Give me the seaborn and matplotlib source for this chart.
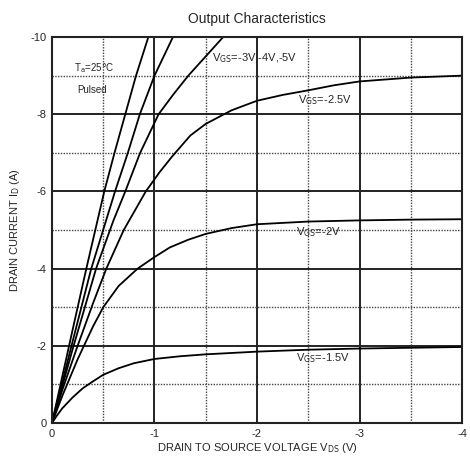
import numpy as np
import pandas as pd
import seaborn as sns
import matplotlib.pyplot as plt

# curves (V_DS in V, I_D in A, both negative)
vds_5 = [0, -0.1, -0.2, -0.335, -0.51, -0.61, -0.715, -0.82, -0.94]
id_5 = [0, -1.2, -2.4, -4, -6, -7, -8, -9, -10]

vds_4 = [0, -0.1, -0.2, -0.383, -0.615, -0.74, -0.857, -1.0, -1.18]
id_4 = [0, -1.05, -2.1, -4, -6, -7, -8, -9, -10]

vds_3 = [0, -0.2, -0.43, -0.6, -0.715, -0.86, -1.04, -1.18, -1.33, -1.5, -1.67]
id_3 = [0, -1.9, -4, -5.25, -6, -7, -8, -8.5, -9, -9.5, -10]

vds_25 = [0, -0.1, -0.25, -0.4, -0.53, -0.7, -0.915, -1.05, -1.17, -1.35, -1.5,
          -1.75, -2.0, -2.25, -2.5, -2.75, -3.0, -3.5, -4.0]
id_25 = [0, -0.85, -2.0, -3.1, -4, -5.0, -6, -6.5, -6.9, -7.45, -7.75,
         -8.1, -8.35, -8.5, -8.62, -8.75, -8.85, -8.95, -9.0]

vds_2 = [0, -0.1, -0.25, -0.4, -0.5, -0.65, -0.835, -1.0, -1.15, -1.33, -1.5,
         -1.75, -2.0, -2.5, -3.0, -3.5, -4.0]
id_2 = [0, -0.7, -1.65, -2.5, -3.0, -3.55, -4.0, -4.3, -4.55, -4.75, -4.9,
        -5.05, -5.15, -5.22, -5.25, -5.27, -5.28]

vds_15 = [0, -0.05, -0.1, -0.2, -0.3, -0.4, -0.5, -0.65, -0.8, -1.0, -1.25,
          -1.5, -2.0, -2.5, -3.0, -3.5, -4.0]
id_15 = [0, -0.2, -0.38, -0.66, -0.9, -1.08, -1.25, -1.42, -1.55, -1.66, -1.73,
         -1.78, -1.85, -1.9, -1.93, -1.95, -1.97]

x_ticks = [0, -1, -2, -3, -4]
y_ticks = [0, -2, -4, -6, -8, -10]

frames = []
for name, vx, iy in [('-5', vds_5, id_5), ('-4', vds_4, id_4), ('-3', vds_3, id_3),
                     ('-2.5', vds_25, id_25), ('-2', vds_2, id_2), ('-1.5', vds_15, id_15)]:
    frames.append(pd.DataFrame({'vds': vx, 'id': iy, 'vgs': name}))
df = pd.concat(frames, ignore_index=True)

sns.set_style('white')
plt.rcParams['font.family'] = ['Liberation Sans', 'DejaVu Sans']

fig = plt.figure(figsize=(4.7, 4.69), dpi=100)
ax = fig.add_axes([0.1106, 0.098, 0.8724, 0.823])

sns.lineplot(data=df, x='vds', y='id', hue='vgs', units='vgs', estimator=None,
             sort=False, palette=['black'] * 6, legend=False, linewidth=1.3, ax=ax)

ax.set_xlim(0, -4)
ax.set_ylim(0, -10)
ax.set_xticks(x_ticks)
ax.set_xticklabels([str(t) for t in x_ticks])
ax.set_yticks(y_ticks)
ax.set_yticklabels([str(t) for t in y_ticks])
ax.set_xticks([-0.5, -1.5, -2.5, -3.5], minor=True)
ax.set_yticks([-1, -3, -5, -7, -9], minor=True)
ax.tick_params(which='both', length=0, labelsize=8, pad=4)

ax.grid(which='major', color='#222222', linewidth=1.4, linestyle='-')
ax.grid(which='minor', color='#444444', linewidth=1.0, linestyle=(0, (1, 1)))
ax.set_axisbelow(True)
for s in ax.spines.values():
    s.set_color('#222222')
    s.set_linewidth(1.5)

ax.set_xlabel(r'DRAIN TO SOURCE VOLTAGE V$_{\rm DS}$ (V)', fontsize=8, labelpad=2)
ax.set_ylabel(r'DRAIN CURRENT I$_{\rm D}$ (A)', fontsize=8, labelpad=6)
ax.set_title('Output Characteristics', fontsize=10, pad=10)

ax.text(-0.415, -9.2, r'T$_{\rm a}$=25$\degree$C', fontsize=7, ha='center', va='center')
ax.text(-0.39, -8.63, 'Pulsed', fontsize=7, ha='center', va='center')
ax.text(-1.56, -9.45, r'V$_{\rm GS}$=-3V,-4V,-5V', fontsize=8, ha='left', va='center')
ax.text(-2.4, -8.37, r'V$_{\rm GS}$=-2.5V', fontsize=8, ha='left', va='center')
ax.text(-2.38, -4.95, r'V$_{\rm GS}$=-2V', fontsize=8, ha='left', va='center')
ax.text(-2.38, -1.68, r'V$_{\rm GS}$=-1.5V', fontsize=8, ha='left', va='center')

fig.savefig('out.png', dpi=100)
